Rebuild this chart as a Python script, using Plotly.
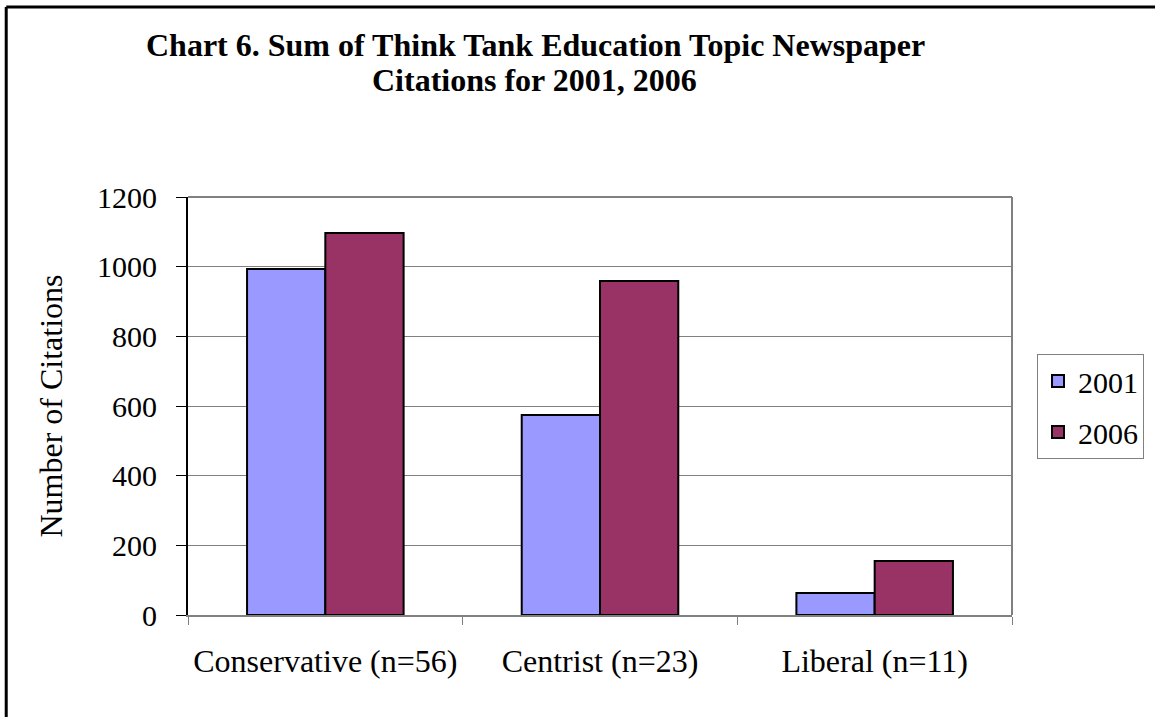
import plotly.graph_objects as go

# Think tank citation totals by ideology group
categories = ["Conservative (n=56)", "Centrist (n=23)", "Liberal (n=11)"]
citations_2001 = [993, 574, 63]
citations_2006 = [1097, 959, 155]
y_ticks = [0, 200, 400, 600, 800, 1000, 1200]

FONT = "Liberation Serif, Times New Roman, serif"

fig = go.Figure()
fig.add_trace(go.Bar(
    name="2001", x=categories, y=citations_2001, legendgroup="a",
    marker=dict(color="#9999FF", line=dict(color="black", width=2)),
))
fig.add_trace(go.Bar(
    name="2006", x=categories, y=citations_2006, legendgroup="b",
    marker=dict(color="#993366", line=dict(color="black", width=2)),
))

W, H = 1155, 717
L, R, T, B = 188, 142, 197, 102
pw, ph = W - L - R, H - T - B

def px_x(x):
    return (x - L) / pw

def px_y(y):
    return 1 - (y - T) / ph

title_lines = [
    ("Chart 6. Sum of Think Tank Education Topic Newspaper", 536, 45),
    ("Citations for 2001, 2006", 535, 80),
]

fig.update_layout(
    width=W, height=H,
    margin=dict(l=L, r=R, t=T, b=B),
    paper_bgcolor="white", plot_bgcolor="white",
    font=dict(family=FONT, color="black", size=30),
    barmode="group", bargap=0.43, bargroupgap=0,
    showlegend=True,
    legend=dict(
        x=px_x(1037), y=px_y(354), xanchor="left", yanchor="top",
        bordercolor="#808080", borderwidth=1,
        font=dict(family=FONT, size=30),
        itemwidth=30, tracegroupgap=9,
    ),
    annotations=[
        dict(text=f"<b>{t}</b>", xref="paper", yref="paper",
             x=px_x(cx), y=px_y(cy), xanchor="center", yanchor="middle",
             showarrow=False, font=dict(family=FONT, size=32))
        for t, cx, cy in title_lines
    ],
    xaxis=dict(
        showline=True, linecolor="#808080", linewidth=2,
        ticks="outside", ticklen=8, tickcolor="#808080",
        tickson="boundaries", showgrid=False,
        tickfont=dict(family=FONT, size=32), ticklabelstandoff=17,
    ),
    yaxis=dict(
        range=[0, 1200], tickvals=y_ticks,
        showline=True, linecolor="black", linewidth=2,
        ticks="outside", ticklen=10, tickcolor="black",
        showgrid=True, gridcolor="#808080", gridwidth=1,
        tickfont=dict(family=FONT, size=30), ticklabelstandoff=13,
        title=dict(text="Number of Citations", font=dict(family=FONT, size=32), standoff=25),
        zeroline=False,
    ),
    shapes=[
        # plot area outline on the top and right
        dict(type="line", xref="paper", yref="paper", x0=0, x1=1, y0=1, y1=1,
             line=dict(color="#808080", width=2)),
        dict(type="line", xref="paper", yref="paper", x0=1, x1=1, y0=0, y1=1,
             line=dict(color="#808080", width=2)),
        # outer chart frame: top and left edges
        dict(type="line", xref="paper", yref="paper",
             x0=px_x(6), x1=px_x(1200), y0=px_y(7), y1=px_y(7),
             line=dict(color="black", width=3)),
        dict(type="line", xref="paper", yref="paper",
             x0=px_x(6), x1=px_x(6), y0=px_y(7), y1=px_y(760),
             line=dict(color="black", width=3)),
    ],
)

fig.write_html("out.html")
